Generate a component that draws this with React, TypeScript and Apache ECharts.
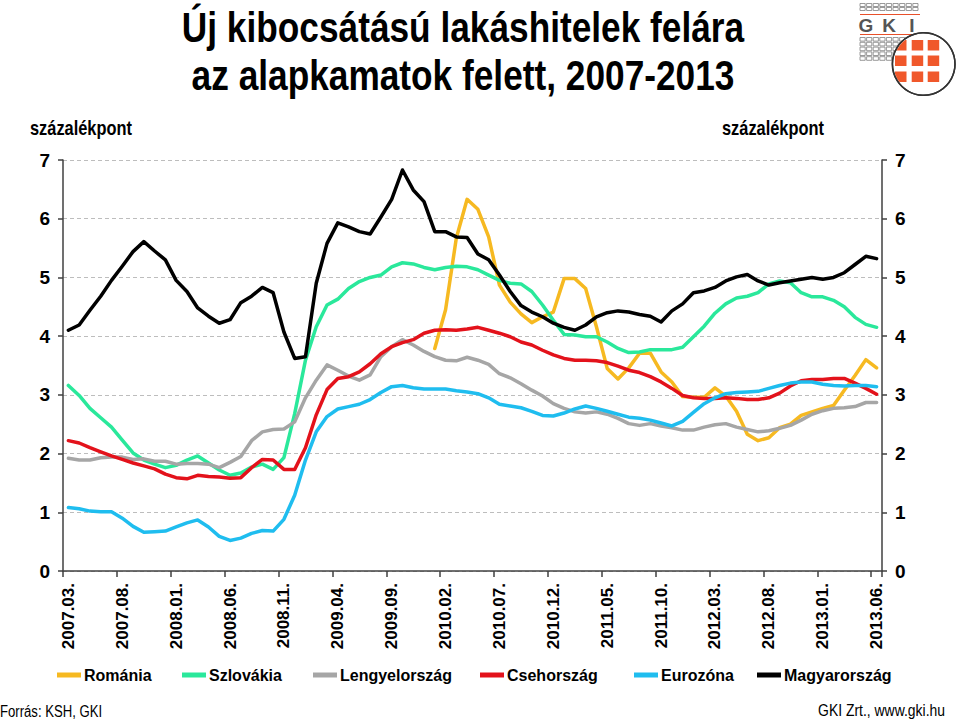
import React, { useEffect, useRef } from "react";
import * as echarts from "echarts";

const categories = [
  "2007.03.", "2007.04.", "2007.05.", "2007.06.", "2007.07.", "2007.08.", "2007.09.", "2007.10.", "2007.11.", "2007.12.",
  "2008.01.", "2008.02.", "2008.03.", "2008.04.", "2008.05.", "2008.06.", "2008.07.", "2008.08.", "2008.09.", "2008.10.", "2008.11.", "2008.12.",
  "2009.01.", "2009.02.", "2009.03.", "2009.04.", "2009.05.", "2009.06.", "2009.07.", "2009.08.", "2009.09.", "2009.10.", "2009.11.", "2009.12.",
  "2010.01.", "2010.02.", "2010.03.", "2010.04.", "2010.05.", "2010.06.", "2010.07.", "2010.08.", "2010.09.", "2010.10.", "2010.11.", "2010.12.",
  "2011.01.", "2011.02.", "2011.03.", "2011.04.", "2011.05.", "2011.06.", "2011.07.", "2011.08.", "2011.09.", "2011.10.", "2011.11.", "2011.12.",
  "2012.01.", "2012.02.", "2012.03.", "2012.04.", "2012.05.", "2012.06.", "2012.07.", "2012.08.", "2012.09.", "2012.10.", "2012.11.", "2012.12.",
  "2013.01.", "2013.02.", "2013.03.", "2013.04.", "2013.05.", "2013.06.",
];

const romania = [
  null, null, null, null, null, null, null, null, null, null,
  null, null, null, null, null, null, null, null, null, null,
  null, null, null, null, null, null, null, null, null, null,
  null, null, null, null,
  3.79, 4.45, 5.67, 6.33, 6.16, 5.69, 4.87, 4.58, 4.38, 4.23,
  4.33, 4.41, 4.98, 4.98, 4.81, 4.16, 3.45, 3.27, 3.46, 3.71,
  3.71, 3.39, 3.22, 2.97, 2.96, 2.96, 3.12, 2.98, 2.72, 2.33,
  2.22, 2.27, 2.44, 2.50, 2.65, 2.71, 2.77, 2.82, 3.08, 3.33,
  3.60, 3.46,
];

const szlovakia = [
  3.16, 2.99, 2.77, 2.61, 2.45, 2.23, 2.01, 1.89, 1.82, 1.76,
  1.80, 1.89, 1.96, 1.84, 1.72, 1.63, 1.67, 1.77, 1.82, 1.73,
  1.93, 2.68, 3.59, 4.16, 4.53, 4.63, 4.81, 4.93, 5.00, 5.04,
  5.18, 5.25, 5.23, 5.17, 5.13, 5.17, 5.19, 5.18, 5.13, 5.04,
  4.95, 4.90, 4.89, 4.76, 4.53, 4.27, 4.03, 4.02, 3.99, 3.99,
  3.90, 3.79, 3.72, 3.73, 3.77, 3.77, 3.77, 3.81, 3.99, 4.17,
  4.39, 4.55, 4.65, 4.68, 4.74, 4.89, 4.94, 4.91, 4.74, 4.67,
  4.67, 4.61, 4.50, 4.32, 4.20, 4.15,
];

const lengyelorszag = [
  1.92, 1.89, 1.89, 1.93, 1.94, 1.94, 1.90, 1.91, 1.87, 1.87,
  1.82, 1.83, 1.83, 1.82, 1.76, 1.85, 1.95, 2.22, 2.37, 2.41,
  2.42, 2.54, 2.95, 3.25, 3.51, 3.42, 3.32, 3.25, 3.34, 3.65,
  3.82, 3.94, 3.85, 3.74, 3.65, 3.59, 3.58, 3.64, 3.59, 3.52,
  3.36, 3.29, 3.19, 3.08, 2.98, 2.85, 2.77, 2.71, 2.69, 2.71,
  2.67, 2.60, 2.51, 2.48, 2.51, 2.47, 2.44, 2.40, 2.40, 2.45,
  2.49, 2.51, 2.45, 2.41, 2.37, 2.39, 2.43, 2.48, 2.57, 2.67,
  2.73, 2.77, 2.78, 2.80, 2.87, 2.87,
];

const csehorszag = [
  2.22, 2.18, 2.10, 2.03, 1.96, 1.90, 1.84, 1.79, 1.74, 1.65,
  1.59, 1.57, 1.63, 1.61, 1.60, 1.58, 1.59, 1.76, 1.90, 1.89,
  1.73, 1.73, 2.10, 2.66, 3.09, 3.28, 3.31, 3.39, 3.53, 3.70,
  3.82, 3.89, 3.94, 4.05, 4.10, 4.11, 4.10, 4.12, 4.15, 4.10,
  4.05, 3.99, 3.90, 3.85, 3.76, 3.68, 3.62, 3.59, 3.59, 3.58,
  3.55, 3.49, 3.42, 3.38, 3.31, 3.22, 3.11, 2.99, 2.95, 2.94,
  2.94, 2.95, 2.94, 2.92, 2.92, 2.95, 3.03, 3.15, 3.24, 3.26,
  3.26, 3.28, 3.28, 3.20, 3.11, 3.01,
];

const eurozona = [
  1.08, 1.06, 1.02, 1.01, 1.01, 0.90, 0.76, 0.66, 0.67, 0.68,
  0.75, 0.82, 0.87, 0.75, 0.59, 0.52, 0.56, 0.64, 0.69, 0.68,
  0.88, 1.29, 1.89, 2.37, 2.63, 2.76, 2.80, 2.84, 2.92, 3.04,
  3.14, 3.16, 3.12, 3.10, 3.10, 3.10, 3.07, 3.05, 3.02, 2.95,
  2.84, 2.81, 2.78, 2.72, 2.65, 2.64, 2.69, 2.76, 2.81, 2.77,
  2.72, 2.67, 2.62, 2.60, 2.57, 2.52, 2.47, 2.55, 2.70, 2.85,
  2.95, 3.02, 3.04, 3.05, 3.06, 3.11, 3.16, 3.20, 3.22, 3.22,
  3.18, 3.16, 3.15, 3.16, 3.16, 3.14,
];

const magyarorszag = [
  4.10, 4.19, 4.44, 4.68, 4.95, 5.19, 5.44, 5.61, 5.45, 5.30,
  4.95, 4.76, 4.48, 4.34, 4.22, 4.28, 4.57, 4.68, 4.83, 4.74,
  4.07, 3.62, 3.65, 4.90, 5.58, 5.93, 5.86, 5.78, 5.74, 6.03,
  6.33, 6.83, 6.49, 6.29, 5.78, 5.78, 5.69, 5.68, 5.40, 5.30,
  5.04, 4.76, 4.52, 4.41, 4.33, 4.22, 4.15, 4.10, 4.19, 4.33,
  4.40, 4.43, 4.41, 4.37, 4.34, 4.24, 4.43, 4.55, 4.74, 4.77,
  4.83, 4.94, 5.01, 5.05, 4.94, 4.87, 4.91, 4.94, 4.97, 5.00,
  4.97, 5.00, 5.08, 5.22, 5.36, 5.32,
];

const seriesNames = ["Románia", "Szlovákia", "Lengyelország", "Csehország", "Eurozóna", "Magyarország"];
const seriesData = [romania, szlovakia, lengyelorszag, csehorszag, eurozona, magyarorszag];
const seriesColors = ["#F6B921", "#2AE89B", "#A6A6A6", "#E3121B", "#1FBDEF", "#000000"];
const legendLefts = [57, 182, 313, 480, 634, 757];

const yTicks = { min: 0, max: 7, interval: 1 };

const SANS = "'Liberation Sans', Arial, Helvetica, sans-serif";
const NARROW_SCALE = 0.82;
const AXIS_COLOR = "#404040";

function clippedSquare(x: number, y: number, w: number, h: number, cx: number, cy: number, r: number) {
  const pts: number[][] = [];
  const n = 10;
  const corners = [[x, y], [x + w, y], [x + w, y + h], [x, y + h]];
  for (let c = 0; c < 4; c++) {
    const [x1, y1] = corners[c];
    const [x2, y2] = corners[(c + 1) % 4];
    for (let k = 0; k < n; k++) {
      let px = x1 + ((x2 - x1) * k) / n;
      let py = y1 + ((y2 - y1) * k) / n;
      const dx = px - cx;
      const dy = py - cy;
      const d = Math.sqrt(dx * dx + dy * dy);
      if (d > r) {
        px = cx + (dx * r) / d;
        py = cy + (dy * r) / d;
      }
      pts.push([px, py]);
    }
  }
  return pts;
}

function buildLogo() {
  const children: any[] = [];
  const x0 = 860;
  const cellW = 6.6;
  for (let r = 0; r < 2; r++) {
    for (let c = 0; c < 9; c++) {
      children.push({
        type: "rect",
        shape: { x: x0 + c * cellW, y: 3.5 + r * 4, width: 5.2, height: 3 },
        style: { fill: "#fff", stroke: "#808080", lineWidth: 0.8 },
      });
    }
  }
  children.push({ type: "line", shape: { x1: 860, y1: 14.5, x2: 920, y2: 14.5 }, style: { stroke: "#E8502A", lineWidth: 1.2 } });
  const letters: [string, number][] = [["G", 866], ["K", 889], ["I", 912]];
  letters.forEach(([t, x]) => {
    children.push({
      type: "text",
      style: { text: t, x, y: 25.5, align: "center", verticalAlign: "middle", fontSize: 19, fontWeight: "bold", fontFamily: SANS, fill: "#555" },
    });
  });
  children.push({ type: "line", shape: { x1: 860, y1: 34.5, x2: 920, y2: 34.5 }, style: { stroke: "#E8502A", lineWidth: 1.2 } });
  for (let r = 0; r < 5; r++) {
    for (let c = 0; c < 9; c++) {
      children.push({
        type: "rect",
        shape: { x: x0 + c * cellW, y: 37.5 + r * 4.8, width: 5.2, height: 3.6 },
        style: { fill: "#fff", stroke: "#808080", lineWidth: 0.8 },
      });
    }
  }
  const cx = 923.7;
  const cy = 64;
  const rr = 31.3;
  children.push({ type: "circle", shape: { cx, cy, r: rr }, style: { fill: "#fff", stroke: "#333", lineWidth: 1.5 } });
  const colsX = [895, 911.7, 927.7];
  const rowsY = [40, 55.5, 71.5];
  rowsY.forEach((yy) => {
    colsX.forEach((xx) => {
      children.push({
        type: "polygon",
        shape: { points: clippedSquare(xx, yy, 11.5, 10.5, cx, cy, rr - 1) },
        style: { fill: "#F0582B" },
      });
    });
  });
  children.push({ type: "circle", shape: { cx, cy, r: rr }, style: { fill: "none", stroke: "#333", lineWidth: 1.5 } });
  return { type: "group", children };
}

function narrowText(text: string, x: number, y: number, fontSize: number, bold: boolean, align: string) {
  return {
    type: "text",
    x,
    y,
    scaleX: NARROW_SCALE,
    scaleY: 1,
    style: {
      text,
      x: 0,
      y: 0,
      align,
      verticalAlign: "middle",
      fontFamily: SANS,
      fontSize,
      fontWeight: bold ? "bold" : "normal",
      fill: "#000",
    },
  };
}

export default function App() {
  const ref = useRef<HTMLDivElement>(null);

  useEffect(() => {
    if (!ref.current) return;
    const chart = echarts.init(ref.current, null, { renderer: "svg" });

    const series = seriesNames.map((name, i) => ({
      type: "line",
      name,
      data: seriesData[i],
      yAxisIndex: 0,
      symbol: "none",
      showSymbol: false,
      connectNulls: false,
      lineStyle: { width: 3.5, color: seriesColors[i], cap: "round", join: "round" },
      itemStyle: { color: seriesColors[i] },
      emphasis: { disabled: true },
    }));

    const legends = seriesNames.map((name, i) => ({
      data: [name],
      left: legendLefts[i],
      top: 667,
      icon: "rect",
      itemWidth: 24,
      itemHeight: 5,
      padding: 0,
      selectedMode: false,
      textStyle: { fontFamily: SANS, fontSize: 16, fontWeight: "bold", color: "#000", padding: [0, 0, 0, -2] },
    }));

    const yAxisCommon = {
      type: "value",
      min: yTicks.min,
      max: yTicks.max,
      interval: yTicks.interval,
      axisLine: { show: true, lineStyle: { color: AXIS_COLOR, width: 1.5 } },
      axisTick: { show: true, length: 5, lineStyle: { color: AXIS_COLOR, width: 1.5 } },
      axisLabel: { fontFamily: SANS, fontSize: 19, fontWeight: "bold", color: "#000", margin: 13 },
    };

    const option: any = {
      animation: false,
      backgroundColor: "#fff",
      grid: { left: 63, right: 78, top: 160, bottom: 151, containLabel: false },
      legend: legends,
      xAxis: {
        type: "category",
        data: categories,
        boundaryGap: true,
        axisLine: { show: true, lineStyle: { color: AXIS_COLOR, width: 1.5 } },
        axisTick: { show: true, interval: 4, length: 6, alignWithLabel: false, lineStyle: { color: AXIS_COLOR, width: 1.5 } },
        axisLabel: { interval: 4, rotate: 90, fontFamily: SANS, fontSize: 17, fontWeight: "bold", color: "#000", margin: 12 },
        splitLine: { show: false },
      },
      yAxis: [
        {
          ...yAxisCommon,
          position: "left",
          splitLine: { show: true, lineStyle: { color: "#BDBDBD", width: 1, type: [4, 3] } },
        },
        {
          ...yAxisCommon,
          position: "right",
          splitLine: { show: false },
        },
      ],
      series,
      graphic: [
        narrowText("Új kibocsátású lakáshitelek felára", 463, 27, 43, true, "center"),
        narrowText("az alapkamatok felett, 2007-2013", 463, 75, 43, true, "center"),
        narrowText("százalékpont", 30, 128, 20, true, "left"),
        narrowText("százalékpont", 722, 128, 20, true, "left"),
        narrowText("Forrás: KSH, GKI", 0, 712, 16, false, "left"),
        narrowText("GKI Zrt., www.gki.hu", 945, 710, 17, false, "right"),
        buildLogo(),
      ],
    };

    chart.setOption(option);
    return () => chart.dispose();
  }, []);

  return (
    <div
      ref={ref}
      style={{ position: "fixed", left: 0, top: 0, width: 960, height: 722, background: "#fff" }}
    />
  );
}
